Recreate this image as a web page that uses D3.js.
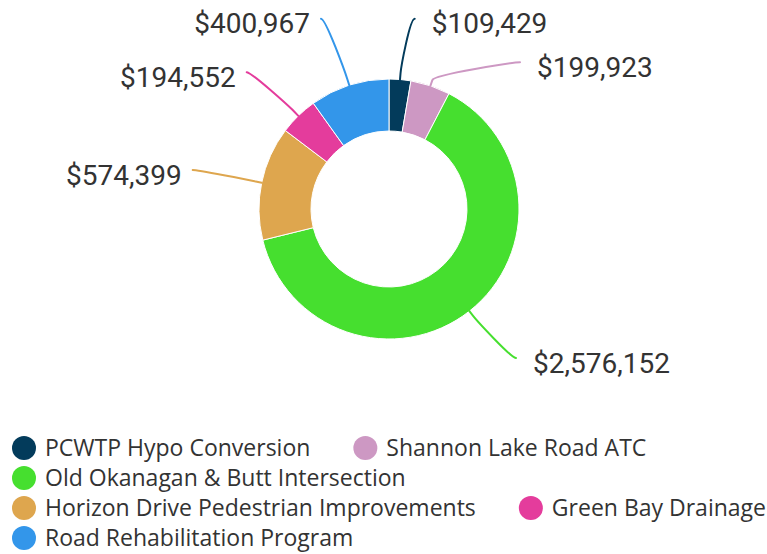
<!DOCTYPE html>
<html>
<head>
<meta charset="utf-8">
<script src="https://cdn.jsdelivr.net/npm/d3@7"></script>
<style>
  html, body { margin: 0; padding: 0; background: #fff; }
  svg { display: block; }
</style>
</head>
<body>
<svg id="chart" width="767" height="554"></svg>
<script>
// ---- data ----
const categories = [
  "PCWTP Hypo Conversion",
  "Shannon Lake Road ATC",
  "Old Okanagan & Butt Intersection",
  "Horizon Drive Pedestrian Improvements",
  "Green Bay Drainage",
  "Road Rehabilitation Program"
];
const values = [109429, 199923, 2576152, 574399, 194552, 400967];
const colors = ["#033b5b", "#cd98c3", "#46df2f", "#dea64e", "#e43c9c", "#3396ea"];

// ---- layout (not data) ----
const W = 767, H = 554;
const cx = 389, cy = 209, outerR = 130, innerR = 78;
// label connector end points (layout of the data labels)
const labelEnds = [[414.7, 18.7], [520, 62.3], [516, 358], [192.7, 170], [246.7, 72.3], [321, 18.7]];

const svg = d3.select("#chart");
const fmt = v => "$" + d3.format(",")(v);

const pie = d3.pie().sort(null).value(d => d)(values);
const arc = d3.arc().innerRadius(innerR).outerRadius(outerR);

const g = svg.append("g").attr("transform", `translate(${cx},${cy})`);
g.selectAll("path.slice").data(pie).join("path")
  .attr("class", "slice")
  .attr("d", arc)
  .attr("fill", (d, i) => colors[i])
  .attr("stroke", "#fff")
  .attr("stroke-width", 1)
  .attr("stroke-linejoin", "round");

// connectors + labels
const pt = (a, r) => [cx + r * Math.sin(a), cy - r * Math.cos(a)];
pie.forEach((d, i) => {
  const mid = (d.startAngle + d.endAngle) / 2;
  const S = pt(mid, outerR);
  const B = pt(mid, outerR + 6);
  const E = labelEnds[i];
  const right = E[0] > cx;
  const c1 = [E[0] + (right ? -5 : 5), E[1]];
  const c2 = [2 * B[0] - S[0], 2 * B[1] - S[1]];
  const p = d3.path();
  p.moveTo(E[0], E[1]);
  p.bezierCurveTo(c1[0], c1[1], c2[0], c2[1], B[0], B[1]);
  p.lineTo(S[0], S[1]);
  svg.append("path")
    .attr("d", p.toString())
    .attr("fill", "none")
    .attr("stroke", colors[i])
    .attr("stroke-width", 2)
    .attr("stroke-linecap", "round");
  svg.append("text")
    .attr("x", right ? E[0] + 17 : E[0] - 11)
    .attr("y", E[1] + 14.5)
    .attr("text-anchor", right ? "start" : "end")
    .attr("font-family", "Roboto, sans-serif")
    .attr("font-size", 28)
    .attr("fill", "#333")
    .text(fmt(values[i]));
});

// legend (flow layout)
const legend = svg.append("g");
const lgX0 = 12, lgY0 = 448, rowH = 30, symR = 12, textGap = 33, itemGap = 43;
let x = lgX0, y = lgY0;
categories.forEach((c, i) => {
  const item = legend.append("g");
  const t = item.append("text")
    .attr("font-family", "'Open Sans', sans-serif")
    .attr("font-size", 23)
    .attr("fill", "#333")
    .text(c);
  const tw = t.node().getComputedTextLength();
  const iw = textGap + tw;
  if (x > lgX0 && x + iw > W) { x = lgX0; y += rowH; }
  item.insert("circle", "text")
    .attr("cx", x + symR).attr("cy", y).attr("r", symR)
    .attr("fill", colors[i]);
  t.attr("x", x + textGap).attr("y", y + 8);
  x += iw + itemGap;
});
</script>
</body>
</html>
